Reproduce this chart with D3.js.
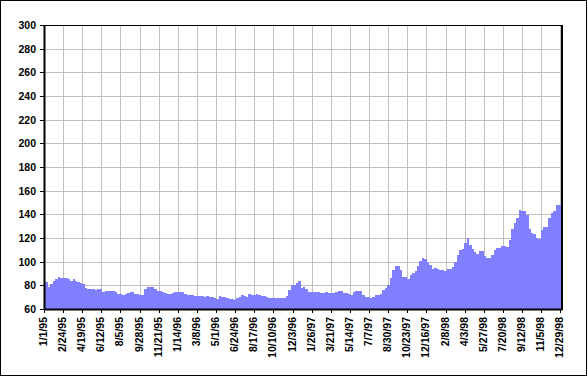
<!DOCTYPE html>
<html>
<head>
<meta charset="utf-8">
<script src="https://cdn.jsdelivr.net/npm/d3@7/dist/d3.min.js"></script>
<style>
  html, body { margin: 0; padding: 0; background: #fff; }
  svg { display: block; }
  text { font-family: "Liberation Sans", Arial, sans-serif; font-weight: bold; fill: #000; }
</style>
</head>
<body>
<svg id="chart" width="588" height="377"></svg>
<script>
// ---- data ----
const startDate = "1/1/95";
const endDate = "1/3/99";
// weekly values starting 1/1/95
const values = [
  84, 83, 78.5, 81, 83.5, 85.5, 87, 86, 86, 86,
  85, 84, 85.5, 83.5, 82.5, 82, 81, 78, 77, 76.7,
  77, 76.3, 76.5, 76.5, 74.4, 75.5, 75.4, 75.3, 75, 74.2,
  73, 72.4, 72, 72.5, 73.5, 74, 74, 73, 72.9, 71.8,
  72, 76.5, 78.3, 78.9, 78.9, 76.5, 75.2, 75, 74.2, 73.2,
  72.5, 72.3, 73.2, 74.5, 74.6, 74.6, 74.6, 72.4, 72.2, 72.2,
  72, 71, 71, 71, 70.7, 70.5, 71, 70.1, 70, 69.3,
  68.7, 70.7, 70.4, 70.4, 69.5, 68.7, 68.3, 67.9, 69.3, 70.5,
  71.8, 71, 70.4, 72.7, 71.8, 72.2, 72.7, 71.5, 71.3, 71.3,
  69.8, 69.6, 69.6, 69.6, 69.6, 69.6, 69.6, 69.7, 71.2, 76,
  80.3, 80.3, 82, 83.5, 78, 78.3, 77, 74.7, 74.1, 74.4,
  74.6, 74.2, 73.8, 73.8, 74, 73.5, 73.8, 73.8, 74.7, 75,
  75.3, 73.8, 73.4, 72.4, 71.6, 74, 75.5, 75.5, 75.5, 71.6,
  70.5, 69.8, 69.6, 70, 71.5, 71.8, 73, 76.2, 77.5, 80.5,
  86.5, 93.3, 96.3, 96.2, 93, 86.8, 86.8, 85, 89, 90.8,
  92.5, 96.3, 100.5, 102.8, 102, 100, 97, 94.2, 94.8, 94,
  93, 93, 92.4, 93.5, 94.1, 95.5, 100, 106, 109.5, 110.7,
  115.5, 119.7, 114, 110.7, 108.2, 106.5, 108.8, 108.8, 105, 103.4,
  103.5, 105.5, 109.9, 111.8, 111.8, 113, 113.5, 112.7, 118, 128,
  132.5, 137, 144, 143, 143, 139.4, 128, 124.5, 123, 119.7,
  119, 127, 129, 129.5, 137, 141.5, 143, 147.5, 147.5, 150
];
const tickLabels = ["1/1/95","2/24/95","4/19/95","6/12/95","8/5/95","9/28/95","11/21/95",
  "1/14/96","3/8/96","5/1/96","6/24/96","8/17/96","10/10/96","12/3/96","1/26/97",
  "3/21/97","5/14/97","7/7/97","8/30/97","10/23/97","12/16/97","2/8/98","4/3/98",
  "5/27/98","7/20/98","9/12/98","11/5/98","12/29/98"];
const yTicks = [60, 80, 100, 120, 140, 160, 180, 200, 220, 240, 260, 280, 300];

// ---- setup ----
const parse = d3.timeParse("%m/%d/%y");
const t0 = parse(startDate);
const data = values.map((v, i) => ({ date: d3.timeDay.offset(t0, 7 * i), value: v }));
const tickDates = tickLabels.map(parse);

const L = 44, R = 562, T = 25, B = 309;
const svg = d3.select("#chart");

svg.append("rect").attr("x", 0).attr("y", 0).attr("width", 588).attr("height", 377).attr("fill", "#fff");

const x = d3.scaleTime().domain([t0, parse(endDate)]).range([L, R]);
const y = d3.scaleLinear().domain([60, 300]).range([B, T]);

// gridlines
const grid = svg.append("g").attr("stroke", "#c0c0c0").attr("stroke-width", 1).attr("shape-rendering", "crispEdges");
grid.selectAll("line.h").data(yTicks.filter(v => v > 60 && v < 300)).join("line")
  .attr("x1", L).attr("x2", R)
  .attr("y1", d => Math.round(y(d)) + 0.5).attr("y2", d => Math.round(y(d)) + 0.5);
grid.selectAll("line.v").data(tickDates.slice(1)).join("line")
  .attr("y1", T).attr("y2", B)
  .attr("x1", d => Math.round(x(d)) + 0.5).attr("x2", d => Math.round(x(d)) + 0.5);

// area
const area = d3.area()
  .x(d => x(d.date))
  .y0(y(60))
  .y1(d => y(d.value))
  .curve(d3.curveStep);
svg.append("path").datum(data)
  .attr("d", area)
  .attr("fill", "#8080ff")
  .attr("shape-rendering", "crispEdges");

// frame
const frame = svg.append("g").attr("stroke", "#000").attr("shape-rendering", "crispEdges");
frame.append("line").attr("x1", L).attr("x2", R + 1).attr("y1", T + 0.5).attr("y2", T + 0.5).attr("stroke-width", 1);
frame.append("line").attr("x1", R).attr("x2", R).attr("y1", T).attr("y2", B + 1).attr("stroke-width", 2);

// axes
const yAxis = d3.axisLeft(y).tickValues(yTicks).tickSize(4).tickSizeOuter(0).tickPadding(4).tickFormat(d3.format("d"));
const gy = svg.append("g").attr("transform", `translate(${L},0)`).call(yAxis);
gy.select(".domain").attr("stroke", "#000").attr("stroke-width", 2);
gy.selectAll(".tick line").attr("stroke", "#000").attr("shape-rendering", "crispEdges");
gy.selectAll(".tick text").style("font-size", "10.5px").style("font-family", "\"Liberation Sans\", Arial, sans-serif").style("font-weight", "bold");

const fmt = new Map(tickDates.map((d, i) => [+d, tickLabels[i]]));
const xAxis = d3.axisBottom(x).tickValues(tickDates).tickSize(4).tickSizeOuter(0).tickFormat(d => fmt.get(+d));
const gx = svg.append("g").attr("transform", `translate(0,${B})`).call(xAxis);
gx.select(".domain").attr("stroke", "#000").attr("stroke-width", 2);
gx.selectAll(".tick line").attr("stroke", "#000").attr("shape-rendering", "crispEdges");
gx.selectAll(".tick text")
  .attr("text-anchor", "end")
  .attr("dy", null)
  .attr("y", 0)
  .attr("transform", "translate(2.5,8) rotate(-90)")
  .style("font-size", "10.5px").style("font-family", "\"Liberation Sans\", Arial, sans-serif").style("font-weight", "bold");

// outer border
svg.append("rect").attr("x", 0.5).attr("y", 0.5).attr("width", 586).attr("height", 375)
  .attr("fill", "none").attr("stroke", "#000").attr("stroke-width", 1);
</script>
</body>
</html>
